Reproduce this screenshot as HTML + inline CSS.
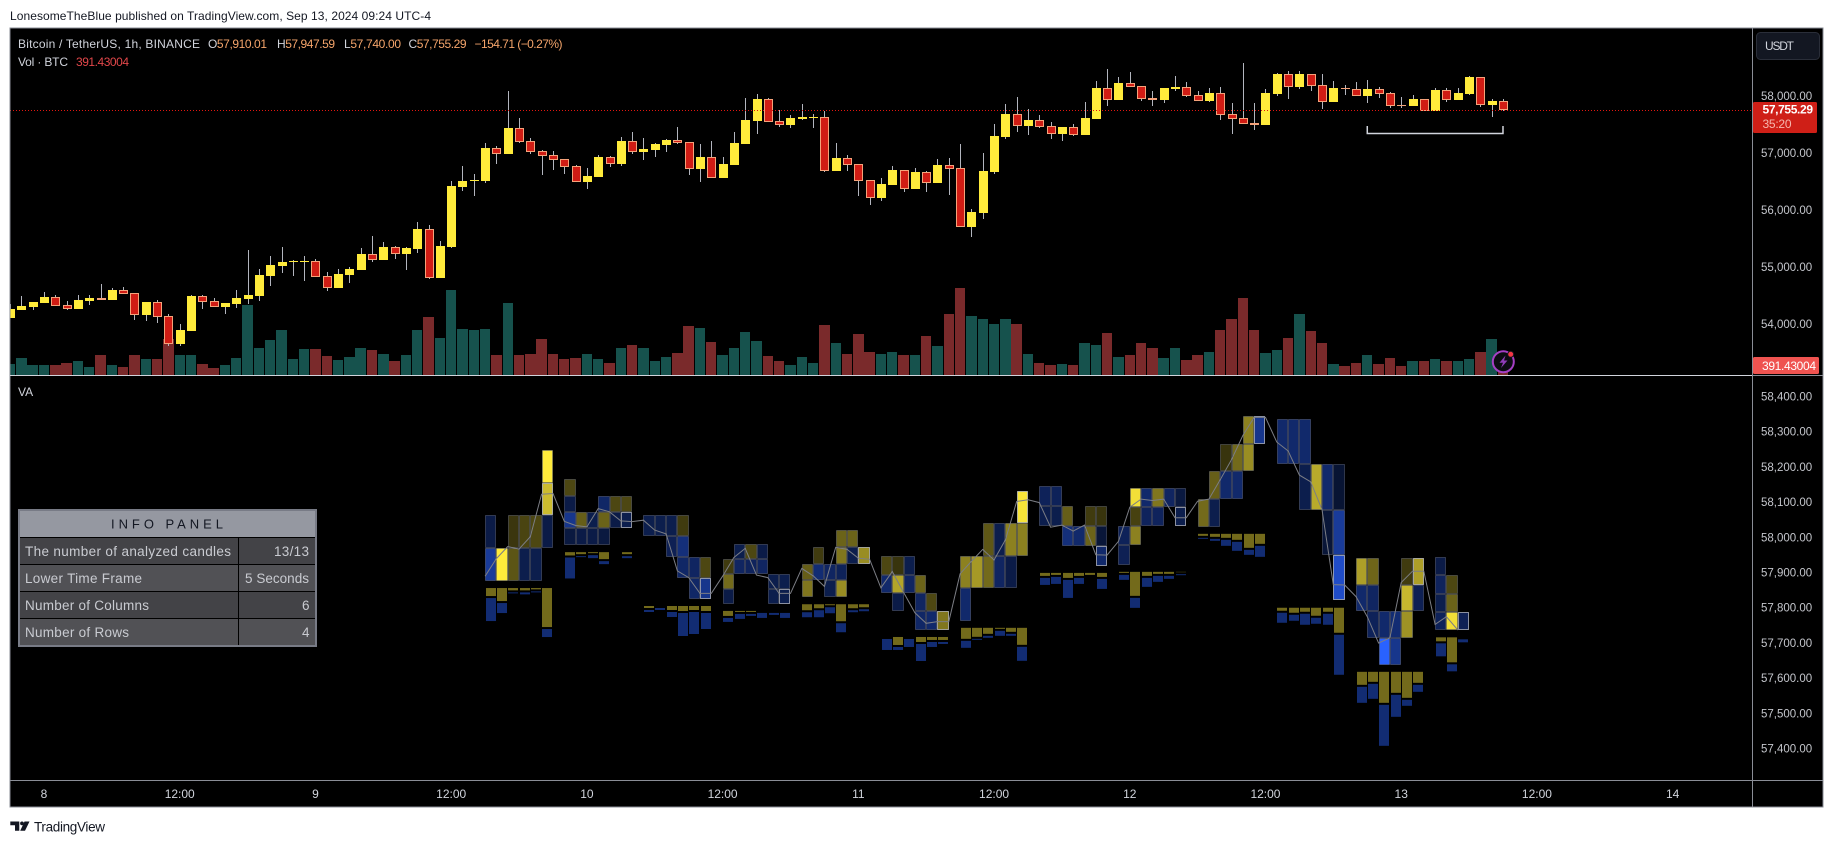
<!DOCTYPE html>
<html lang="en">
<head>
<meta charset="utf-8">
<title>BTCUSDT 1h with Volume Analysis panel</title>
<style>
html,body{margin:0;padding:0;background:#fff;}
svg{display:block;font-family:"Liberation Sans",sans-serif;}
</style>
</head>
<body>
<svg id="chart" xmlns="http://www.w3.org/2000/svg" width="1833" height="844" viewBox="0 0 1833 844">
  <defs>
    <clipPath id="main-clip"><rect x="10" y="28" width="1742" height="347"></rect></clipPath>
  </defs>
  <rect x="0" y="0" width="1833" height="844" fill="#ffffff"></rect>
  <text x="10" y="20" font-size="12" fill="#131722" textLength="421">LonesomeTheBlue published on TradingView.com, Sep 13, 2024 09:24 UTC-4</text>
  <rect x="10" y="28" width="1813" height="779" fill="#000000"></rect>

  <g id="main-pane" clip-path="url(#main-clip)">
    <g id="volume-layer"></g>
    <g id="candle-layer"></g>
    <line id="price-line" x1="10" x2="1752" stroke="#e3160f" stroke-width="1" stroke-dasharray="1 2"></line>
    <path id="range-bracket" fill="none" stroke="#d1d4dc" stroke-width="1.5"></path>
  </g>

  <g>
    <circle cx="1503.3" cy="361.7" r="10.5" fill="#0c0c12" stroke="#a53fc4" stroke-width="2"></circle>
    <polygon points="1505.5,355.5 1499.5,362.8 1503,362.8 1501,368 1507.5,360.5 1504,360.5" fill="#8f3cb8"></polygon>
    <circle cx="1510.7" cy="354.3" r="3" fill="#f23645" stroke="#14141c" stroke-width="1"></circle>
  </g>

  <g id="va-pane">
    <g id="va-cells"></g>
    <g id="va-hist"></g>
    <polyline id="va-line" fill="none" stroke="#7c7e85" stroke-width="1"></polyline>
  </g>

  <text x="18" y="48" font-size="12" fill="#d1d4dc" textLength="182">Bitcoin / TetherUS, 1h, BINANCE</text>
  <g font-size="12" fill="#f5a56b">
    <text x="208" y="48" textLength="59"><tspan fill="#d1d4dc">O</tspan>57,910.01</text>
    <text x="277" y="48" textLength="58"><tspan fill="#d1d4dc">H</tspan>57,947.59</text>
    <text x="344" y="48" textLength="57"><tspan fill="#d1d4dc">L</tspan>57,740.00</text>
    <text x="408.5" y="48" textLength="58"><tspan fill="#d1d4dc">C</tspan>57,755.29</text>
    <text x="474.5" y="48" textLength="88">−154.71 (−0.27%)</text>
  </g>
  <text x="18" y="66" font-size="12" fill="#d1d4dc" textLength="50">Vol · BTC</text>
  <text x="76" y="66" font-size="12" fill="#e2474a" textLength="53">391.43004</text>
  <text x="18" y="396" font-size="12" fill="#d1d4dc">VA</text>

  <g>
    <rect x="19" y="510" width="297" height="136" fill="#000000" stroke="#787b86" stroke-width="2"></rect>
    <rect x="20" y="511" width="295" height="26" fill="#9598a1"></rect>
    <text x="111" y="528.5" font-size="13" fill="#131722" textLength="112">INFO PANEL</text>
    <rect x="20" y="538" width="295" height="26" fill="#434347"></rect>
    <rect x="20" y="565" width="295" height="26" fill="#515155"></rect>
    <rect x="20" y="592" width="295" height="26" fill="#434347"></rect>
    <rect x="20" y="619" width="295" height="26" fill="#515155"></rect>
    <rect x="238" y="538" width="1" height="107" fill="#000000"></rect>
    <g font-size="13.5" fill="#c9cbd1">
      <text x="25" y="556" textLength="206">The number of analyzed candles</text>
      <text x="274" y="556" textLength="35">13/13</text>
      <text x="25" y="583" textLength="117">Lower Time Frame</text>
      <text x="245" y="583" textLength="64">5 Seconds</text>
      <text x="25" y="610" textLength="124">Number of Columns</text>
      <text x="302" y="610">6</text>
      <text x="25" y="637" textLength="104">Number of Rows</text>
      <text x="302" y="637">4</text>
    </g>
  </g>

  <g id="axis-layer"></g>

  <g>
    <rect x="10" y="28" width="1813" height="779" fill="none" stroke="#8a8d96" stroke-width="1" shape-rendering="crispEdges"></rect>
    <rect x="1752" y="28" width="1" height="779" fill="#8a8d96"></rect>
    <rect x="10" y="375" width="1742" height="1" fill="#d1d4dc"></rect>
    <rect x="1753" y="375" width="70" height="1" fill="#8a8d96"></rect>
    <rect x="10" y="780" width="1813" height="1" fill="#8a8d96"></rect>
  </g>

  <g>
    <rect x="1756.5" y="32.5" width="63" height="27" rx="4" fill="#131722" stroke="#2a2e39"></rect>
    <text x="1765" y="50" font-size="12" fill="#d1d4dc" textLength="29">USDT</text>
  </g>
  <g>
    <rect x="1753" y="102" width="64" height="31" rx="1.5" fill="#cf1f17"></rect>
    <text id="last-price-text" x="1762.5" y="113.5" font-size="12" fill="#ffffff" font-weight="700" textLength="50.5">57,755.29</text>
    <text x="1762.5" y="128" font-size="12" fill="#f6b7ae" textLength="29">35:20</text>
  </g>
  <g>
    <rect x="1753" y="357" width="66" height="17" rx="1.5" fill="#ef5350"></rect>
    <text id="volume-tag-text" x="1762" y="370" font-size="12" fill="#ffffff" textLength="54">391.43004</text>
  </g>

  <g fill="#131722">
    <polygon points="10.3,821.5 19.3,821.5 19.3,830.7 15,830.7 15,825.3 10.3,825.3"></polygon>
    <circle cx="22" cy="823.4" r="1.9"></circle>
    <polygon points="24.5,821.5 29.5,821.5 25,830.7 20.2,830.7"></polygon>
    <text x="34" y="831.5" font-size="13.5" textLength="71">TradingView</text>
  </g>
</svg>

<script>
/* ---------- candle data: first value belongs to bar -3; bar 0 = Sep 8 00:00 ---------- */
const firstBar = -3;
const opens = [54106,54240,54293,54363,54463,54322,54258,54398,54451,54416,54591,54533,54153,54375,54129,53644,53872,54480,54392,54293,54346,54433,54486,54837,55012,55082,55082,55094,54831,54626,54854,54942,55217,55118,55346,55223,55311,55656,54802,55346,56398,56504,56504,57077,56977,57428,57199,57024,56954,56884,56767,56486,56574,56919,56802,57199,57012,57047,57135,57217,57182,56714,56919,56556,56784,57153,57556,57936,57550,57486,57591,57609,57620,56679,56901,56796,56515,56205,56433,56691,56363,56655,56468,56778,56726,55696,55942,56661,57275,57673,57468,57568,57463,57328,57445,57310,57591,58129,57924,58217,58164,57960,57924,58117,58147,58006,57907,58041,57673,57603,57521,57486,58030,58375,58153,58375,58182,57889,58135,58112,57995,58112,58041,57837,57819,57936,57732,58094,57924,58030,58322,57837,57910.01];
const highs = [54346,54486,54381,54556,54504,54398,54504,54504,54697,54626,54644,54533,54381,54416,54170,53995,54504,54504,54445,54363,54591,55293,54960,55188,55346,55118,55188,55135,54913,54960,54995,55328,55539,55433,55363,55346,55784,55732,55451,56504,56767,56626,57170,57118,58083,57609,57258,57047,57030,56884,56784,56732,56960,56942,57275,57363,57258,57170,57240,57451,57182,57153,57205,56924,57363,57960,58030,57960,57749,57661,57854,57679,57731,57170,56960,56796,56515,56556,56767,56691,56731,56679,56889,56907,57153,56012,56995,57503,57854,57977,57767,57661,57539,57451,57503,57889,58258,58468,58328,58416,58164,58082,58135,58346,58240,58082,58135,58153,57872,58574,57872,58117,58398,58433,58433,58375,58381,58258,58188,58240,58275,58153,58065,57977,58012,57936,58135,58135,58135,58346,58328,57942,57947.59];
const lows = [54106,54240,54240,54357,54316,54240,54258,54328,54422,54416,54521,54065,54047,54018,53615,53615,53872,54258,54299,54170,54281,54346,54398,54661,54890,54837,54749,54825,54574,54626,54714,54942,55082,55118,55135,54942,55240,54784,54802,55328,56328,56240,56468,56802,56977,57176,56983,56609,56697,56626,56492,56363,56574,56749,56767,56983,56872,56924,57012,57153,56609,56486,56562,56556,56784,57153,57328,57544,57451,57433,57574,57433,56661,56679,56679,56240,56082,56153,56433,56310,56363,56310,56468,56258,55702,55521,55837,56626,57240,57363,57310,57433,57240,57205,57293,57310,57591,57819,57924,58158,57907,57819,57872,58082,57977,57907,57889,57574,57328,57509,57398,57486,57995,57942,58117,58082,57767,57889,58012,57995,57872,57960,57784,57784,57819,57737,57732,57889,57924,58012,57802,57626,57740];
const closes = [54258,54311,54381,54468,54316,54264,54416,54451,54422,54591,54527,54158,54381,54123,53650,53889,54486,54387,54299,54363,54451,54504,54854,55030,55082,55100,55100,54825,54632,54872,54960,55223,55118,55346,55229,55334,55661,54808,55363,56416,56504,56521,57082,56983,57433,57194,57018,56948,56878,56755,56492,56591,56925,56808,57205,57018,57065,57153,57223,57170,56720,56924,56562,56802,57170,57574,57942,57544,57486,57609,57626,57626,56685,56907,56790,56509,56211,56451,56696,56369,56661,56474,56784,56720,55702,55960,56679,57293,57679,57474,57574,57457,57334,57451,57316,57609,58135,57930,58223,58158,57948,57930,58135,58153,58001,57913,58047,57667,57597,57509,57486,58047,58381,58158,58381,58176,57895,58135,58117,58001,58117,58036,57825,57819,57942,57737,58100,57924,58047,58328,57843,57907,57755.29];
const volumes = [467,714,426,426,426,508,590,343,838,426,343,838,673,673,1497,838,838,467,302,426,714,2897,1126,1455,1867,673,1085,1085,796,632,755,1126,1043,879,590,838,1867,2403,1538,3515,1908,1867,1908,838,2979,838,879,1497,879,673,714,879,673,494,1112,1236,1112,577,741,906,2018,1936,1359,824,1112,1771,1400,783,577,412,741,494,2060,1318,865,1689,947,865,947,824,824,1606,1195,2513,3584,2430,2307,2101,2307,2101,865,494,412,453,412,1318,1236,1730,741,824,1318,1112,700,1112,618,824,947,1854,2307,3172,1854,906,1030,1524,2513,1812,1318,453,371,494,824,453,700,371,577,577,659,577,577,659,947,1483,391.43];

/* ---------- axis ticks ---------- */
const priceTicks = [58000,57000,56000,55000,54000];
const vaTicks = [58400,58300,58200,58100,58000,57900,57800,57700,57600,57500,57400];
const timeTickBars = [0,12,24,36,48,60,72,84,96,108,120,132,144];
const timeTickLabels = ['8','12:00','9','12:00','10','12:00','11','12:00','12','12:00','13','12:00','14'];
const bracketFromBar = 117;
const bracketToBar = 129;

/* ---------- volume-analysis panel: 13 groups of 6 columns x 4 rows ---------- */
const vaStartBars = [39,46,53,60,67,74,81,88,95,102,109,116,123];
const vaTops = [58247,58164,58064,57979,58020,57946,58131,58145,58140,58344,58335,57940,57943];
const vaBottoms = [57876,57978,57825,57811,57830,57737,57763,57919,57922,58030,57820,57638,57736];
const vaLastRows = [1,2,3,3,1,3,0,3,1,0,3,0,3];
const vaLastCols = [5,5,5,5,5,5,5,5,5,5,5,5,2];
/* signed share per cell: + buy dominant, - sell dominant, 0 no trades */
const vaDelta = [
  [[0,0,0,0,0,1],[0,0,0,0,0,.8],[-.28,0,.23,.29,.3,-.28],[-.6,1,.36,-.3,-.3,0]],
  [[.3,0,0,0,0,0],[-.28,0,0,-.4,.3,.3],[-.55,.4,-.3,.42,-.28,-.3],[-.25,-.28,-.28,-.25,0,0]],
  [[-.3,-.3,-.3,.25,0,0],[0,0,-.33,-.48,0,0],[0,0,0,-.4,-.38,.3],[0,0,0,0,-.4,-.55]],
  [[0,-.3,.3,-.28,0,0],[.25,-.38,-.36,-.38,0,0],[.45,0,0,0,-.3,-.3],[-.28,0,0,0,-.3,-.3]],
  [[0,0,0,.42,.42,0],[0,.25,0,.5,-.3,.6],[.4,-.45,-.38,-.35,0,0],[.5,0,-.3,.6,0,0]],
  [[.3,.22,-.3,0,0,0],[-.42,.7,-.38,.42,0,0],[0,-.28,0,-.38,.3,0],[0,0,0,-.4,-.42,.5]],
  [[0,0,0,0,0,.97],[0,0,.37,-.3,.55,.55],[.55,.65,.45,-.38,-.28,0],[-.42,0,0,0,0,0]],
  [[-.35,-.35,0,0,0,0],[-.3,-.3,.4,0,.25,.22],[0,0,-.48,-.42,.42,-.22],[0,0,0,0,0,-.42]],
  [[0,.95,-.42,.5,-.38,-.25],[0,.28,-.36,-.36,0,-.3],[-.35,.55,0,0,0,0],[-.33,0,0,0,0,0]],
  [[0,0,0,0,.55,-.55],[0,0,.22,.45,.6,0],[0,.4,-.42,-.42,0,0],[.45,-.3,0,0,0,0]],
  [[-.42,-.42,-.42,0,0,0],[0,0,-.3,.72,-.42,-.2],[0,0,0,0,-.22,-.6],[0,0,0,0,0,-.78]],
  [[.68,.43,0,0,.25,.68],[-.42,-.38,0,0,.78,-.33],[0,-.35,-.42,-.45,.62,0],[0,0,-1,-.55,0,0]],
  [[-.28,0,0,0,0,0],[-.36,.3,0,0,0,0],[-.3,.42,0,0,0,0],[-.35,.95,-.33,0,0,0]]
];
const vaBuyVolume = [[24,39,7,7,4,117],[10,6,3,21,0,6],[6,0,12,15,12,15],[15,3,3,0,0,0],[18,12,3,51,12,9],[0,24,0,15,9,9],[33,27,18,3,12,51],[9,6,15,9,6,12],[3,72,12,6,6,1],[6,9,12,18,42,30],[9,15,12,24,12,75],[39,30,93,63,78,33],[12,75,0,0,0,0]];
const vaSellVolume = [[69,30,3,6,3,24],[63,3,9,9,0,6],[6,6,15,69,66,48],[12,15,6,15,6,15],[15,21,18,27,6,6],[33,9,24,51,15,6],[21,3,6,15,6,42],[21,21,54,18,0,30],[15,30,27,18,9,3],[3,6,18,27,15,33],[30,18,33,18,33,120],[48,45,123,66,18,21],[39,21,9,0,0,0]];
const vaLineFirstBar = 39;
const vaLine = [57889,57939,57973,57966,58001,58122,58124,58045,58033,58029,58081,58072,58046,58044,58048,58020,58009,57904,57885,57840,57840,57889,57942,57968,57892,57885,57840,57840,57911,57890,57860,57971,57965,57940,57937,57856,57902,57843,57785,57755,57760,57760,57896,57931,57965,57935,57992,58101,58106,58098,58028,58034,58017,58034,57950,57949,57988,58085,58108,58104,58108,58055,58055,58102,58108,58163,58220,58289,58340,58340,58270,58245,58176,58157,58078,57865,57864,57831,57774,57699,57714,57871,57903,57903,57752,57774,57736];

/* ---------- axis functions ---------- */
function xAt(bar){ return 44 + 11.31 * bar; }
function yPrice(p){ return 95.7 + (58000 - p) * 0.057; }
function yVolume(v){ return 375 - v / 41.2; }
function yVa(p){ return 748.3 - (p - 57400) * 0.352; }
function histHeight(v){ return v / 3; }

const NS = 'http://www.w3.org/2000/svg';
function mk(tag, attrs, parent){
  const el = document.createElementNS(NS, tag);
  for (const k in attrs) el.setAttribute(k, attrs[k]);
  parent.appendChild(el);
  return el;
}
const fmtPrice = p => p.toLocaleString('en-US', {minimumFractionDigits:2, maximumFractionDigits:2});

/* volume bars and candles */
const volumeLayer = document.getElementById('volume-layer');
const candleLayer = document.getElementById('candle-layer');
opens.forEach((o, k) => {
  const bar = firstBar + k, x = xAt(bar), c = closes[k], up = c >= o;
  const left = Math.round(x - 5.2), right = Math.round(x + 5.2), vt = Math.round(yVolume(volumes[k]));
  const vb = mk('rect', {x:left, y:vt, width:right-left, height:375-vt, fill: up ? '#16524d' : '#7a2a2b', 'shape-rendering':'crispEdges'}, volumeLayer);
  
  

  const cx = Math.round(x);
  const hi = Math.round(yPrice(highs[k])), lo = Math.round(yPrice(lows[k]));
  const wick = mk('rect', {x:cx, y:hi, width:1, height:Math.max(1, lo-hi), fill:'#b2b5be', 'shape-rendering':'crispEdges'}, candleLayer);
  
  

  const top = Math.round(yPrice(Math.max(o, c))), bottom = Math.round(yPrice(Math.min(o, c)));
  const h = Math.max(1, bottom - top);
  let body;
  if (up) {
    body = mk('rect', {x:cx-4, y:top, width:9, height:h, fill:'#ffeb3b', 'shape-rendering':'crispEdges'}, candleLayer);
  } else if (h < 3) {
    body = mk('rect', {x:cx-4, y:top, width:9, height:h, fill:'#f5a27a', 'shape-rendering':'crispEdges'}, candleLayer);
  } else {
    body = mk('rect', {x:cx-3.5, y:top+.5, width:8, height:h-1, fill:'#d01c14', stroke:'#f5a27a', 'stroke-width':1, 'shape-rendering':'crispEdges'}, candleLayer);
  }
  
  
});

/* last price line and bracket */
const lastClose = closes[closes.length - 1];
const lineY = Math.round(yPrice(lastClose)) + .5;
document.getElementById('price-line').setAttribute('y1', lineY);
document.getElementById('price-line').setAttribute('y2', lineY);
document.getElementById('last-price-text').textContent = fmtPrice(lastClose);
const bl = xAt(bracketFromBar), br = xAt(bracketToBar);
document.getElementById('range-bracket').setAttribute('d', 'M' + bl + ' 126V133.5H' + br + 'V126');

/* VA heatmap cells and histograms */
const cellLayer = document.getElementById('va-cells');
const histLayer = document.getElementById('va-hist');
vaStartBars.forEach((start, g) => {
  const rows = vaDelta[g], rowCount = rows.length;
  const rowH = (vaTops[g] - vaBottoms[g]) / rowCount;
  rows.forEach((row, r) => {
    row.forEach((d, col) => {
      if (d === 0) return;
      const x0 = xAt(start + col), x1 = xAt(start + col + 1);
      const y0 = yVa(vaTops[g] - rowH * r), y1 = yVa(vaTops[g] - rowH * (r + 1));
      const a = Math.abs(d);
      const fill = d > 0 ? 'rgba(255,235,59,' + a + ')' : 'rgba(41,98,255,' + a + ')';
      const last = r === vaLastRows[g] && col === vaLastCols[g];
      const cell = mk('rect', {x:Math.round(x0)+.5, y:Math.round(y0)+.5, width:Math.round(x1)-Math.round(x0)-1, height:Math.round(y1)-Math.round(y0)-1, fill:fill, stroke:last ? 'rgba(210,213,225,.65)' : 'rgba(178,185,215,.26)', 'stroke-width':1, 'shape-rendering':'crispEdges'}, cellLayer);
      
      
    });
  });
  const base = yVa(vaBottoms[g]) + 7.3;
  vaBuyVolume[g].forEach((buy, col) => {
    const x0 = Math.round(xAt(start + col) + .7), w = 10;
    const bh = histHeight(buy);
    if (buy > 0) {
      const b = mk('rect', {x:x0, y:base, width:w, height:bh, fill:'rgba(255,235,59,.45)'}, histLayer);
      
      
    }
    const sell = vaSellVolume[g][col];
    if (sell > 0) {
      const s = mk('rect', {x:x0, y:base + bh + 2, width:w, height:histHeight(sell), fill:'rgba(41,98,255,.45)'}, histLayer);
      
      
    }
  });
});

/* VA polyline */
document.getElementById('va-line').setAttribute('points', vaLine.map((p, k) => xAt(vaLineFirstBar + k).toFixed(1) + ',' + yVa(p).toFixed(1)).join(' '));

/* axis labels */
const axisLayer = document.getElementById('axis-layer');
priceTicks.forEach(p => {
  const t = mk('text', {x:1761, y:yPrice(p) + 4.2, 'font-size':11.5, fill:'#c4c6cc'}, axisLayer);
  
  
  t.textContent = fmtPrice(p);
});
vaTicks.forEach(p => {
  const t = mk('text', {x:1761, y:yVa(p) + 4.2, 'font-size':11.5, fill:'#c4c6cc'}, axisLayer);
  
  
  t.textContent = fmtPrice(p);
});
timeTickBars.forEach((bar, k) => {
  const t = mk('text', {x:xAt(bar), y:798, 'font-size':12, fill:'#d1d4dc', 'text-anchor':'middle'}, axisLayer);
  
  
  t.textContent = timeTickLabels[k];
});
</script>
</body>
</html>
